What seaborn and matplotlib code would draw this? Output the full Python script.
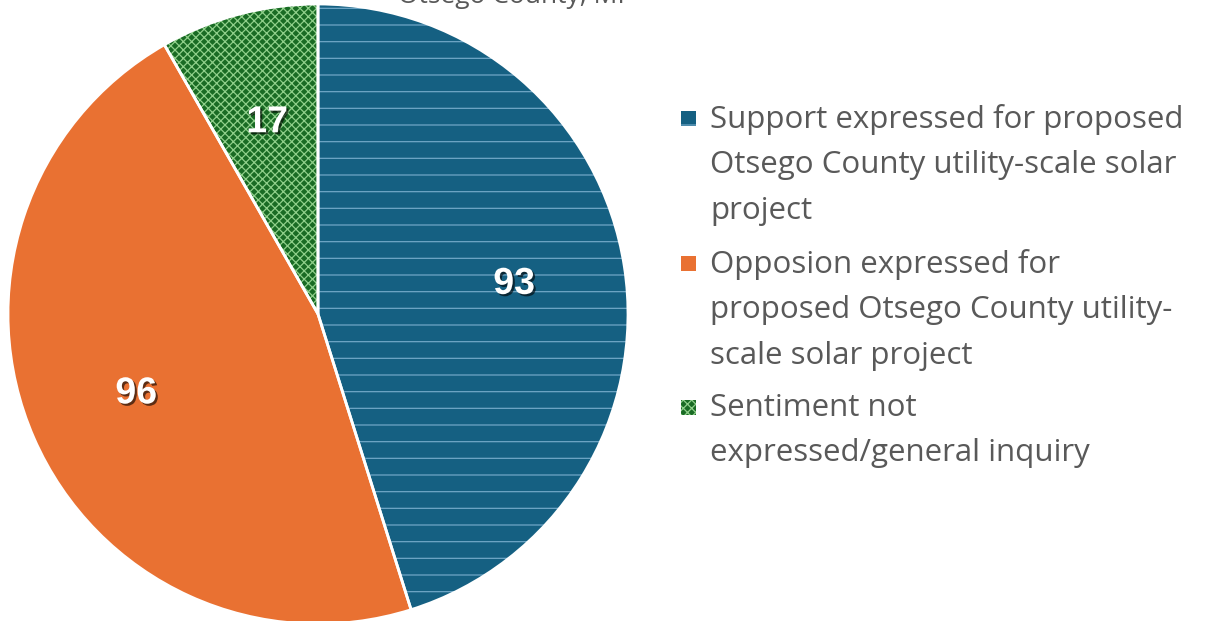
import matplotlib.pyplot as plt
import matplotlib.patheffects as pe
from matplotlib.patches import Rectangle
import seaborn as sns

# Data
categories = [
    "Support expressed for proposed\nOtsego County utility-scale solar\nproject",
    "Opposion expressed for\nproposed Otsego County utility-\nscale solar project",
    "Sentiment not\nexpressed/general inquiry",
]
counts = [93, 96, 17]
colors = ["#156082", "#E97132", "#196B24"]
hatch_colors = ["#6fa6c6", "#E97132", "#8fcf8a"]
hatches = ["-", None, "xxxx"]
title = "Otsego County, MI"

sns.set_theme(style="white")
plt.rcParams["font.family"] = ["Open Sans", "DejaVu Sans"]
plt.rcParams["hatch.linewidth"] = 0.9

fig = plt.figure(figsize=(12.12, 6.21), dpi=100)
ax = fig.add_axes([8 / 1212, -3 / 621, 620 / 1212, 620 / 621])

total = sum(counts)
wedges, _, autotexts = ax.pie(
    counts,
    colors=colors,
    startangle=90,
    counterclock=False,
    autopct=lambda p: f"{round(p * total / 100):d}",
    pctdistance=0.64,
    wedgeprops=dict(linewidth=0),
    textprops=dict(color="white", fontsize=27, fontweight="bold",
                   family="Liberation Sans"),
)
for w, h, hc in zip(wedges, hatches, hatch_colors):
    if h:
        w.set_hatch(h)
        w.set_edgecolor(hc)
        w.set_linewidth(0)

# white separator outlines
ax.pie(
    counts,
    startangle=90,
    counterclock=False,
    colors=["none"] * 3,
    wedgeprops=dict(linewidth=2, edgecolor="white", fill=False),
)
for t in autotexts:
    t.set_path_effects([
        pe.SimplePatchShadow(offset=(1.5, -1.5), shadow_rgbFace="black", alpha=0.6),
        pe.Normal(),
    ])
ax.set_xlim(-1, 1)
ax.set_ylim(-1, 1)
ax.set_aspect("equal")

# title (cut off at the top, as in the source)
fig.text(511 / 1212, 1 - 3 / 621, title, ha="center", va="baseline",
         fontsize=19, color="#595959")

# legend
text_color = "#595959"
label_tops = [117, 262, 406]
for lab, col, h, hc, ytop in zip(categories, colors, hatches, hatch_colors, label_tops):
    fig.text(710 / 1212, 1 - (ytop - 13) / 621, lab, ha="left", va="top",
             fontsize=22.5, color=text_color, linespacing=1.67)
    sq = Rectangle((681 / 1212, 1 - (ytop + 9) / 621), 15 / 1212, 15 / 621,
                   transform=fig.transFigure, facecolor=col,
                   edgecolor=hc if h else col, hatch=h, linewidth=0)
    fig.add_artist(sq)

fig.savefig("out.png", dpi=100)
